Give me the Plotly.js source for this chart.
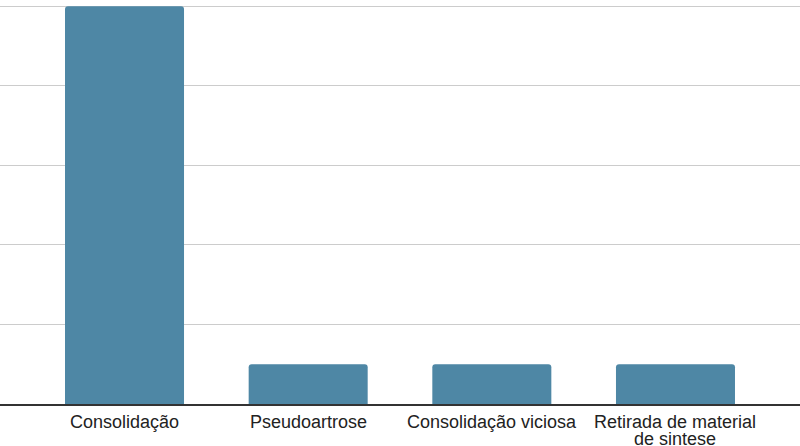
<!DOCTYPE html>
<html>
<head>
<meta charset="utf-8">
<script src="https://cdn.plot.ly/plotly-3.0.1.min.js"></script>
<style>html,body{margin:0;padding:0;background:#fff;}#chart{width:800px;height:446px;}</style>
</head>
<body>
<div id="chart"></div>
<script>
const categories = ["Consolidação", "Pseudoartrose", "Consolidação viciosa", "Retirada de material\nde sintese"];
const values = [10, 1, 1, 1];
const yTicks = [0, 2, 4, 6, 8, 10];

const barColor = "#4e87a5";
const fontFamily = "Arial, 'Liberation Sans', Arimo, sans-serif";
const labelSize = 18;
const lineStep = 17;

const annotations = [];
categories.forEach((cat, i) => {
  cat.split("\n").forEach((line, j) => {
    annotations.push({
      x: i, xref: "x", y: 0, yref: "paper",
      text: line, showarrow: false,
      xanchor: "center", yanchor: "middle",
      yshift: -18 - j * lineStep,
      font: {family: fontFamily, size: labelSize, color: "#222"}
    });
  });
});

Plotly.newPlot("chart", [{
  type: "bar",
  x: categories.map((c, i) => i),
  y: values,
  marker: {color: barColor, cornerradius: 3},
  hoverinfo: "none"
}], {
  width: 800, height: 446,
  margin: {l: 0, r: 0, t: 0, b: 42, pad: 0},
  paper_bgcolor: "#fff", plot_bgcolor: "#fff",
  bargap: 0.352,
  showlegend: false,
  xaxis: {
    range: [-0.678, 3.678],
    showticklabels: false, ticks: "",
    showgrid: false, zeroline: false,
    showline: true, linecolor: "#333", linewidth: 2,
    fixedrange: true
  },
  yaxis: {
    range: [0, 10.16],
    tickvals: yTicks,
    showticklabels: false, ticks: "",
    showgrid: true, gridcolor: "#cccccc", gridwidth: 1,
    zeroline: false, showline: false,
    fixedrange: true
  },
  annotations: annotations,
  font: {family: fontFamily}
}, {displayModeBar: false, staticPlot: true});
</script>
</body>
</html>
